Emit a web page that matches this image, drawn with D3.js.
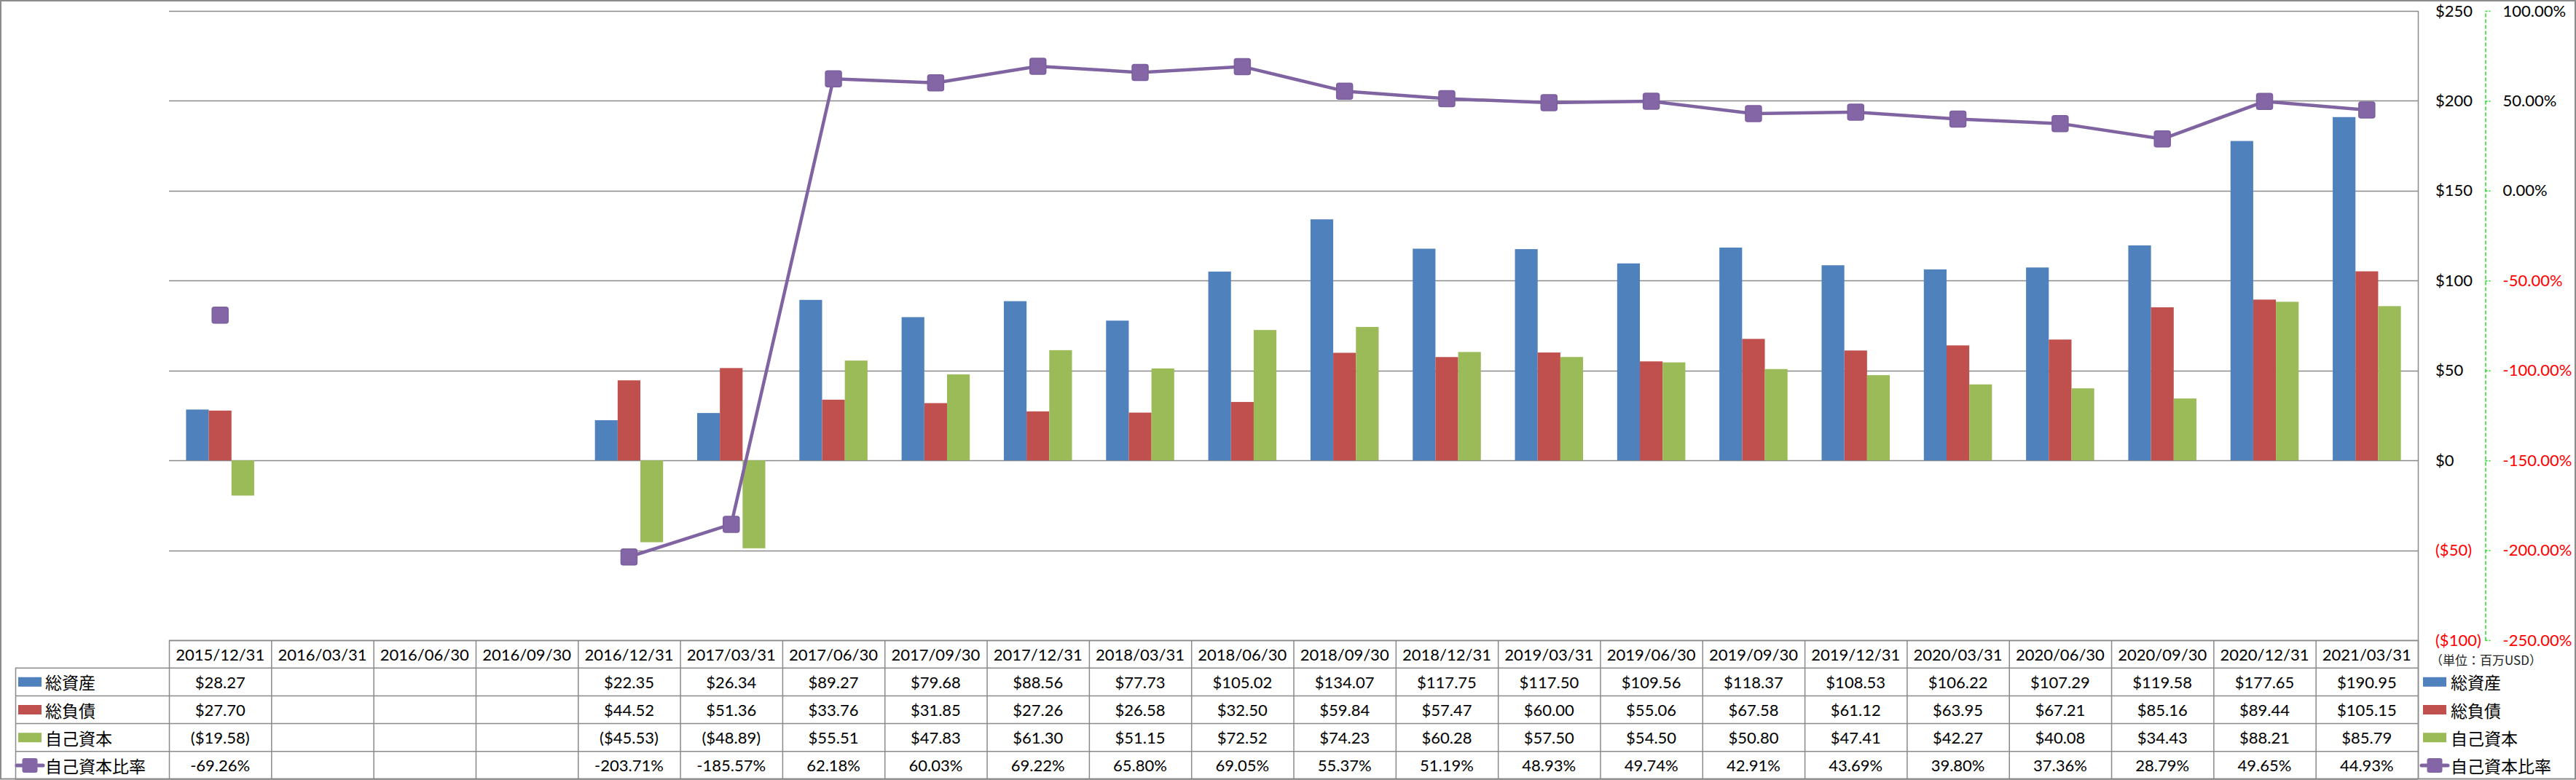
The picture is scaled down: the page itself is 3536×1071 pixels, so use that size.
<!DOCTYPE html>
<html>
<head>
<meta charset="utf-8">
<script src="https://cdn.jsdelivr.net/npm/d3@7"></script>
<style>
  html, body { margin: 0; padding: 0; background: #fff; }
  svg { display: block; }
  text { font-family: Lato, "Liberation Sans", sans-serif; }
  .jp { font-family: "Noto Sans CJK JP", sans-serif; }
</style>
</head>
<body>
<svg id="chart" width="3536" height="1071"></svg>
<script>
// ---------------- DATA ----------------
const categories = ["2015/12/31","2016/03/31","2016/06/30","2016/09/30","2016/12/31","2017/03/31","2017/06/30","2017/09/30","2017/12/31","2018/03/31","2018/06/30","2018/09/30","2018/12/31","2019/03/31","2019/06/30","2019/09/30","2019/12/31","2020/03/31","2020/06/30","2020/09/30","2020/12/31","2021/03/31"];
const totalAssets = [28.27,null,null,null,22.35,26.34,89.27,79.68,88.56,77.73,105.02,134.07,117.75,117.50,109.56,118.37,108.53,106.22,107.29,119.58,177.65,190.95];
const totalLiabilities = [27.70,null,null,null,44.52,51.36,33.76,31.85,27.26,26.58,32.50,59.84,57.47,60.00,55.06,67.58,61.12,63.95,67.21,85.16,89.44,105.15];
const equity = [-19.58,null,null,null,-45.53,-48.89,55.51,47.83,61.30,51.15,72.52,74.23,60.28,57.50,54.50,50.80,47.41,42.27,40.08,34.43,88.21,85.79];
const equityRatio = [-69.26,null,null,null,-203.71,-185.57,62.18,60.03,69.22,65.80,69.05,55.37,51.19,48.93,49.74,42.91,43.69,39.80,37.36,28.79,49.65,44.93];
const seriesNames = ["総資産","総負債","自己資本","自己資本比率"];
const leftTicks = [-100,-50,0,50,100,150,200,250];
const rightTicks = [-250,-200,-150,-100,-50,0,50,100];
const unitLabel = "（単位：百万USD）";

// ---------------- STYLE / LAYOUT ----------------
const colors = ["#4F81BD","#C0504D","#9BBB59","#8064A2"];
const W = 3536, H = 1071;
const plotL = 232, plotR = 3319, plotT = 15, plotB = 879;
const rowH = 38.2;
const tableLeft = 21;
const gridColor = "#8a8a8a";

const svg = d3.select("#chart");

const x = d3.scaleBand().domain(categories).range([plotL, plotR]).paddingInner(0).paddingOuter(0);
const xSub = d3.scaleBand().domain([0,1,2]).range([0, x.bandwidth()]).paddingInner(0).paddingOuter(0.75);
const yL = d3.scaleLinear().domain([-100, 250]).range([plotB, plotT]);
const yR = d3.scaleLinear().domain([-250, 100]).range([plotB, plotT]);

const fmtMoneyAxis = v => v < 0 ? "($" + Math.abs(v) + ")" : "$" + v;
const fmtPctAxis = v => v.toFixed(2) + "%";
const fmtMoney = v => v == null ? "" : (v < 0 ? "($" + Math.abs(v).toFixed(2) + ")" : "$" + v.toFixed(2));
const fmtPct = v => v == null ? "" : v.toFixed(2) + "%";

// outer chart border
svg.append("rect").attr("x", 1).attr("y", 1).attr("width", W - 2).attr("height", H - 2.5)
  .attr("fill", "#fff").attr("stroke", "#8c8c8c").attr("stroke-width", 2);

// gridlines
svg.append("g").selectAll("line").data(leftTicks).join("line")
  .attr("x1", plotL).attr("x2", plotR)
  .attr("y1", d => Math.round(yL(d)) + 0.5).attr("y2", d => Math.round(yL(d)) + 0.5)
  .attr("stroke", gridColor).attr("stroke-width", 1.5);

// plot right edge line
svg.append("line").attr("x1", plotR + 0.5).attr("x2", plotR + 0.5).attr("y1", plotT).attr("y2", H - 1)
  .attr("stroke", gridColor).attr("stroke-width", 1.5);

// bars
const barSeries = [totalAssets, totalLiabilities, equity];
const barData = [];
barSeries.forEach((vals, si) => vals.forEach((v, i) => {
  if (v != null) barData.push({ cat: categories[i], si, v });
}));
svg.append("g").selectAll("rect").data(barData).join("rect")
  .attr("x", d => x(d.cat) + xSub(d.si))
  .attr("width", xSub.bandwidth())
  .attr("y", d => Math.min(yL(d.v), yL(0)))
  .attr("height", d => Math.abs(yL(d.v) - yL(0)))
  .attr("fill", d => colors[d.si]);

// line
const lineData = equityRatio.map((v, i) => ({ cat: categories[i], v }));
const line = d3.line()
  .defined(d => d.v != null)
  .x(d => x(d.cat) + x.bandwidth() / 2)
  .y(d => yR(d.v));
svg.append("path").datum(lineData).attr("d", line)
  .attr("fill", "none").attr("stroke", colors[3]).attr("stroke-width", 4.5)
  .attr("stroke-linejoin", "round");
const ms = 22;
svg.append("g").selectAll("rect").data(lineData.filter(d => d.v != null)).join("rect")
  .attr("x", d => x(d.cat) + x.bandwidth() / 2 - ms / 2)
  .attr("y", d => yR(d.v) - ms / 2)
  .attr("width", ms).attr("height", ms).attr("rx", 3)
  .attr("fill", "#8466A6").attr("stroke", "#7C5F9E").attr("stroke-width", 1.5);

// primary axis (labels on right, no line)
const axL = svg.append("g").attr("transform", `translate(3343,0)`)
  .call(d3.axisRight(yL).tickValues(leftTicks).tickSize(0).tickPadding(0).tickFormat(fmtMoneyAxis));
axL.select(".domain").remove();
axL.selectAll("text").attr("font-size", 22).attr("font-family", "Lato, sans-serif")
  .attr("fill", d => d < 0 ? "#FF0000" : "#000");

// secondary axis (green dashed line)
const axR = svg.append("g").attr("transform", `translate(3411.5,0)`)
  .call(d3.axisRight(yR).tickValues(rightTicks).tickSize(7).tickSizeOuter(0).tickPadding(17).tickFormat(fmtPctAxis));
axR.select(".domain").attr("stroke", "#22DD22").attr("stroke-width", 1.5).attr("stroke-dasharray", "5,3");
axR.selectAll(".tick line").attr("stroke", "#22DD22").attr("stroke-width", 1.5).attr("stroke-dasharray", "3,2");
axR.selectAll("text").attr("font-size", 22).attr("font-family", "Lato, sans-serif")
  .attr("fill", d => d < 0 ? "#FF0000" : "#000");

// ---------------- DATA TABLE ----------------
const tbl = svg.append("g");
const headerTop = plotB, headerBot = plotB + rowH;
const rowTops = d3.range(4).map(i => headerBot + i * rowH);
const tableBottom = headerBot + 4 * rowH;
// horizontal lines
tbl.append("line").attr("x1", plotL).attr("x2", plotR).attr("y1", headerTop + 0.5).attr("y2", headerTop + 0.5)
  .attr("stroke", gridColor).attr("stroke-width", 1.5);
tbl.selectAll("line.h").data(rowTops.concat([tableBottom])).join("line").attr("class", "h")
  .attr("x1", tableLeft).attr("x2", plotR)
  .attr("y1", d => d).attr("y2", d => d)
  .attr("stroke", gridColor).attr("stroke-width", 1.5);
// vertical lines
const colEdges = categories.map(c => x(c)).concat([plotR]);
tbl.selectAll("line.v").data(colEdges).join("line").attr("class", "v")
  .attr("x1", d => d + 0.5).attr("x2", d => d + 0.5)
  .attr("y1", headerTop).attr("y2", tableBottom)
  .attr("stroke", gridColor).attr("stroke-width", 1.5);
tbl.append("line").attr("x1", tableLeft + 0.5).attr("x2", tableLeft + 0.5)
  .attr("y1", headerBot).attr("y2", tableBottom)
  .attr("stroke", gridColor).attr("stroke-width", 1.5);

// header text
tbl.selectAll("text.hd").data(categories).join("text").attr("class", "hd")
  .attr("x", d => x(d) + x.bandwidth() / 2)
  .attr("y", (headerTop + headerBot) / 2)
  .attr("text-anchor", "middle").attr("dominant-baseline", "central")
  .attr("font-size", 22).text(d => d);

const tableRows = [
  { name: seriesNames[0], vals: totalAssets, fmt: fmtMoney, color: colors[0], line: false },
  { name: seriesNames[1], vals: totalLiabilities, fmt: fmtMoney, color: colors[1], line: false },
  { name: seriesNames[2], vals: equity, fmt: fmtMoney, color: colors[2], line: false },
  { name: seriesNames[3], vals: equityRatio, fmt: fmtPct, color: colors[3], line: true }
];

function drawKey(g, cx, cy, row) {
  if (row.line) {
    g.append("line").attr("x1", cx - 18).attr("x2", cx + 18).attr("y1", cy).attr("y2", cy)
      .attr("stroke", row.color).attr("stroke-width", 5).attr("stroke-linecap", "round");
    g.append("rect").attr("x", cx - 10.5).attr("y", cy - 10).attr("width", 21).attr("height", 20)
      .attr("rx", 3).attr("fill", "#8466A6");
  } else {
    g.append("rect").attr("x", cx - 16).attr("y", cy - 6.5).attr("width", 32).attr("height", 13)
      .attr("fill", row.color);
  }
}

tableRows.forEach((row, ri) => {
  const cy = rowTops[ri] + rowH / 2;
  const g = tbl.append("g");
  drawKey(g, 41, cy, row);
  g.append("text").attr("class", "jp").attr("x", 62).attr("y", cy)
    .attr("dominant-baseline", "central").attr("font-size", 23).text(row.name);
  g.selectAll("text.val").data(row.vals.map((v, i) => ({ cat: categories[i], v }))).join("text")
    .attr("class", "val")
    .attr("x", d => x(d.cat) + x.bandwidth() / 2).attr("y", cy)
    .attr("text-anchor", "middle").attr("dominant-baseline", "central")
    .attr("font-size", 22).text(d => row.fmt(d.v));
  // right legend
  const lg = svg.append("g");
  drawKey(lg, 3342, cy, row);
  lg.append("text").attr("class", "jp").attr("x", 3364).attr("y", cy)
    .attr("dominant-baseline", "central").attr("font-size", 23).text(row.name);
});

svg.append("text").attr("class", "jp").attr("x", 3336).attr("y", 905)
  .attr("dominant-baseline", "central").attr("font-size", 17).attr("fill", "#222").text(unitLabel);
</script>
</body>
</html>
